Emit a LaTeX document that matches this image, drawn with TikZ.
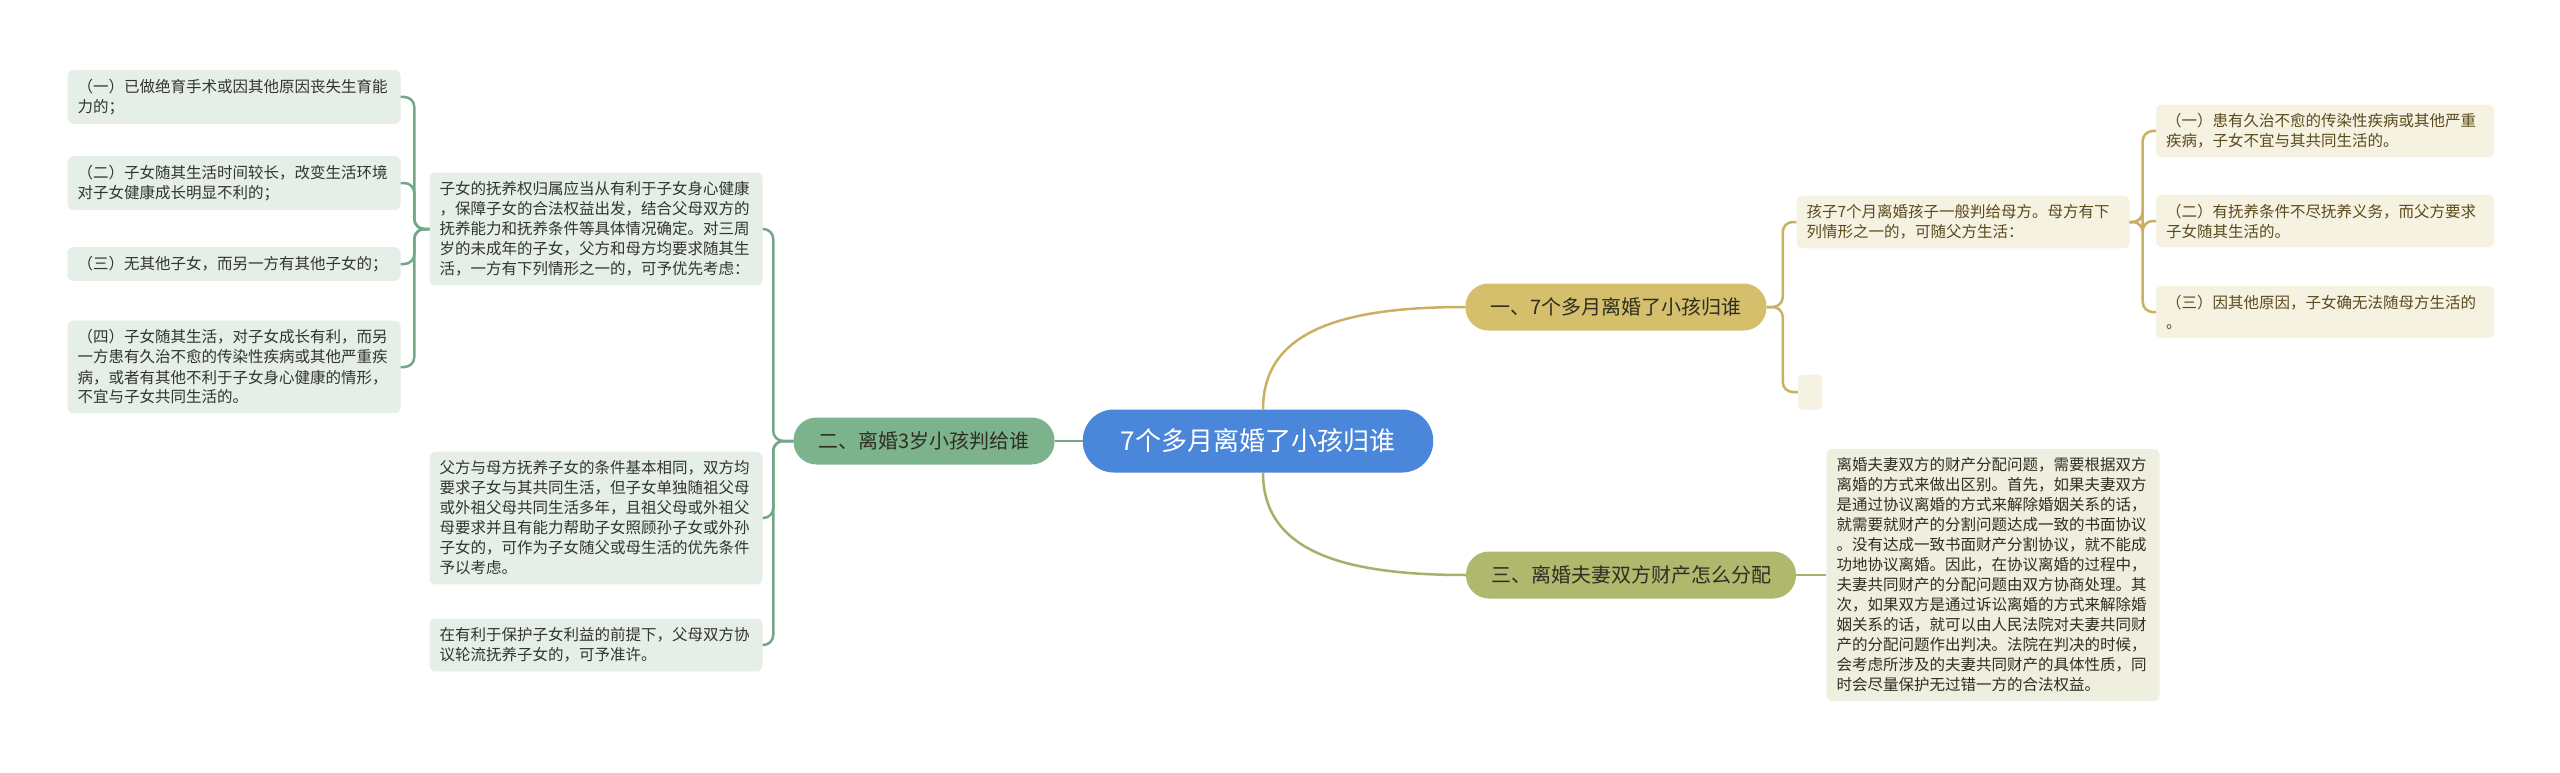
\documentclass[tikz,border=0pt]{standalone}
\usepackage{fontspec}
\setmainfont{Noto Sans CJK SC}
\usetikzlibrary{positioning}
\definecolor{cRoot}{HTML}{4A86D9}
\definecolor{cGold}{HTML}{D5BE6C}
\definecolor{cGoldLn}{HTML}{C9B062}
\definecolor{cGoldBg}{HTML}{F6F2E2}
\definecolor{cGoldTx}{HTML}{5A4A1C}
\definecolor{cGreen}{HTML}{7DB38C}
\definecolor{cGreenLn}{HTML}{72A886}
\definecolor{cGreenBg}{HTML}{E5EEE7}
\definecolor{cOlive}{HTML}{B0B86E}
\definecolor{cOliveLn}{HTML}{A9AF68}
\definecolor{cOliveBg}{HTML}{EFEFE0}
\definecolor{cDark}{HTML}{2E2E22}

\begin{document}
\begin{tikzpicture}[x=1pt,y=-1pt,
    rootbox/.style={fill=cRoot, text=white, rounded corners=31pt, minimum height=63pt,
        inner xsep=38pt, font=\fontsize{26}{30}\selectfont},
    branchbox/.style={text=cDark, rounded corners=23pt, minimum height=47pt,
        inner xsep=25pt, font=\fontsize{20}{24}\selectfont},
    textbox/.style={rounded corners=6pt, text width=313pt, inner xsep=10pt, inner ysep=9pt,
        align=left, font=\fontsize{15.5}{20}\selectfont},
    goldbox/.style={textbox, fill=cGoldBg, text=cGoldTx},
    greenbox/.style={textbox, fill=cGreenBg, text=black!80},
    olivebox/.style={textbox, fill=cOliveBg, text=cDark},
    goldln/.style={draw=cGoldLn, line width=2.5pt, rounded corners=10pt},
    greenln/.style={draw=cGreenLn, line width=2.5pt, rounded corners=10pt},
    oliveln/.style={draw=cOliveLn, line width=2.5pt, rounded corners=10pt}]

    \fill[white] (0,0) rectangle (2560,773);
    \useasboundingbox (0,0) rectangle (2560,773);

    % centre and main topics
    \node[rootbox] (root) at (1258,441) {7个多月离婚了小孩归谁};
    \node[branchbox, fill=cGold] (br1) at (1616,307) {一、7个多月离婚了小孩归谁};
    \node[branchbox, fill=cGreen] (br2) at (924,441) {二、离婚3岁小孩判给谁};
    \node[branchbox, fill=cOlive] (br3) at (1631,575) {三、离婚夫妻双方财产怎么分配};

    % right side
    \node[goldbox] (mom) at (1963,222) {孩子7个月离婚孩子一般判给母方。母方有下\\列情形之一的，可随父方生活：};
    \node[fill=cGoldBg, rounded corners=5pt, minimum width=24pt, minimum height=35pt,
        inner sep=0pt] (blank) at (1810,392) {};
    \node[goldbox, text width=318pt] (ma) at (2325,131) {（一）患有久治不愈的传染性疾病或其他严重\\疾病，子女不宜与其共同生活的。};
    \node[goldbox, text width=318pt] (mb) at (2325,221) {（二）有抚养条件不尽抚养义务，而父方要求\\子女随其生活的。};
    \node[goldbox, text width=318pt] (mc) at (2325,312) {（三）因其他原因，子女确无法随母方生活的\\。};
    \node[olivebox] (prop) at (1993,575) {离婚夫妻双方的财产分配问题，需要根据双方\\离婚的方式来做出区别。首先，如果夫妻双方\\是通过协议离婚的方式来解除婚姻关系的话，\\就需要就财产的分割问题达成一致的书面协议\\。没有达成一致书面财产分割协议，就不能成\\功地协议离婚。因此，在协议离婚的过程中，\\夫妻共同财产的分配问题由双方协商处理。其\\次，如果双方是通过诉讼离婚的方式来解除婚\\姻关系的话，就可以由人民法院对夫妻共同财\\产的分配问题作出判决。法院在判决的时候，\\会考虑所涉及的夫妻共同财产的具体性质，同\\时会尽量保护无过错一方的合法权益。};

    % left side
    \node[greenbox] (rule) at (596,229) {子女的抚养权归属应当从有利于子女身心健康\\，保障子女的合法权益出发，结合父母双方的\\抚养能力和抚养条件等具体情况确定。对三周\\岁的未成年的子女，父方和母方均要求随其生\\活，一方有下列情形之一的，可予优先考虑：};
    \node[greenbox] (elder) at (596,518) {父方与母方抚养子女的条件基本相同，双方均\\要求子女与其共同生活，但子女单独随祖父母\\或外祖父母共同生活多年，且祖父母或外祖父\\母要求并且有能力帮助子女照顾孙子女或外孙\\子女的，可作为子女随父或母生活的优先条件\\予以考虑。};
    \node[greenbox] (turn) at (596,645) {在有利于保护子女利益的前提下，父母双方协\\议轮流抚养子女的，可予准许。};
    \node[greenbox] (pa) at (234,97) {（一）已做绝育手术或因其他原因丧失生育能\\力的；};
    \node[greenbox] (pb) at (234,183) {（二）子女随其生活时间较长，改变生活环境\\对子女健康成长明显不利的；};
    \node[greenbox] (pc) at (234,264) {（三）无其他子女，而另一方有其他子女的；};
    \node[greenbox] (pd) at (234,367) {（四）子女随其生活，对子女成长有利，而另\\一方患有久治不愈的传染性疾病或其他严重疾\\病，或者有其他不利于子女身心健康的情形，\\不宜与子女共同生活的。};

    % connectors
    \draw[goldln] ([xshift=5pt]root.north) .. controls +(0,-80) and +(-120,0) .. (br1.west);
    \draw[oliveln] ([xshift=5pt]root.south) .. controls +(0,80) and +(-120,0) .. (br3.west);
    \draw[greenln] (root.west) -- (br2.east);
    \draw[goldln] (br1.east) -- ++(16,0) |- (mom.west);
    \draw[goldln] (br1.east) -- ++(16,0) |- (blank.west);
    \foreach \kid in {ma,mb,mc}
        \draw[goldln] (mom.east) -- ++(13,0) |- (\kid.west);
    \draw[oliveln] (br3.east) -- (prop.west);
    \foreach \kid in {rule,elder,turn}
        \draw[greenln] (br2.west) -- ++(-20,0) |- (\kid.east);
    \foreach \kid in {pa,pb,pc,pd}
        \draw[greenln] (rule.west) -- ++(-15,0) |- (\kid.east);
\end{tikzpicture}
\end{document}
